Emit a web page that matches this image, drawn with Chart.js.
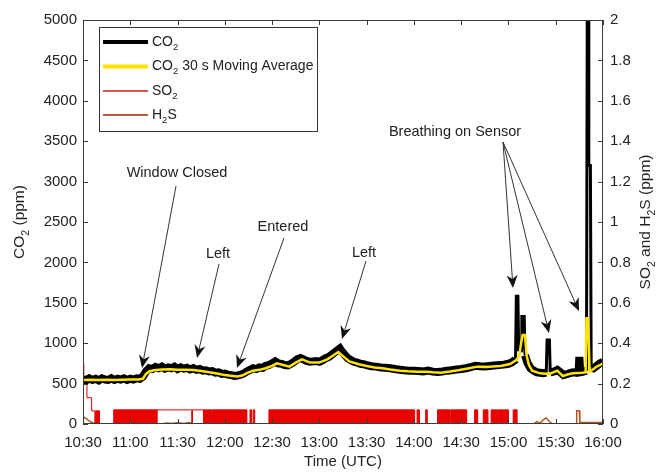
<!DOCTYPE html>
<html>
<head>
<meta charset="utf-8">
<title>CO2, SO2 and H2S</title>
<script src="https://cdn.jsdelivr.net/npm/chart.js@4"></script>
<style>
  body { margin: 0; background: #fff; }
  canvas { display: block; }
</style>
</head>
<body>
<canvas id="gasChart" width="662" height="472"></canvas>
<script>
// all times are minutes after 10:30 UTC
const timeLabels = ['10:30', '11:00', '11:30', '12:00', '12:30', '13:00', '13:30', '14:00', '14:30', '15:00', '15:30', '16:00'];

// CO2 raw reading (ppm)
const co2Times = [0, 2, 4, 6, 8, 10, 12, 14, 16, 18, 20, 22, 24, 26, 28, 30, 32, 34, 36, 38,
    40, 42, 44, 46, 48, 50, 52, 54, 56, 58, 60, 62, 64, 66, 68, 70, 72, 74, 76, 78,
    80, 82, 84, 86, 88, 90, 92, 94, 96, 98, 100, 102, 104, 106, 108, 110, 112, 114, 116, 118,
    120, 122, 124, 126, 128, 130, 132, 134, 136, 138, 140, 142, 144, 146, 148, 150, 152, 154, 156, 158,
    160, 162, 163, 164, 166, 168, 170, 172, 174, 176, 178, 180, 183, 186, 189, 192, 195, 198, 201, 204,
    207, 210, 213, 216, 219, 222, 225, 228, 231, 234, 237, 240, 243, 246, 249, 252, 255, 258, 261, 264,
    267, 270, 272, 274, 274.5, 275, 276, 276.5, 277.5, 278, 278.5, 280, 280.5, 282, 284, 286, 288, 290, 292, 294,
    294.5, 296, 296.5, 299, 301, 303, 305, 307, 309, 311, 313, 314.5, 315, 315.5, 317, 319.5, 320, 320.5, 321, 322,
    322.5, 324, 326, 328, 330];
const co2Values = [560, 540, 565, 545, 560, 540, 565, 550, 545, 565, 545, 560, 550, 565, 545, 560, 550, 565, 560, 585,
    650, 690, 680, 705, 690, 710, 685, 700, 690, 710, 680, 700, 685, 695, 675, 690, 670, 680, 660, 665,
    650, 655, 635, 640, 620, 625, 610, 605, 595, 600, 610, 625, 650, 670, 690, 680, 700, 695, 720, 730,
    750, 775, 750, 745, 730, 725, 745, 770, 800, 815, 800, 780, 770, 775, 780, 770, 790, 815, 830, 860,
    890, 920, 935, 905, 860, 815, 790, 770, 760, 745, 740, 730, 715, 710, 700, 695, 690, 680, 672, 665,
    660, 658, 655, 650, 660, 648, 645, 650, 660, 665, 675, 680, 690, 705, 720, 715, 712, 718, 725, 730,
    735, 745, 760, 790, 800, 1580, 1580, 900, 950, 1000, 1330, 1330, 850, 760, 690, 660, 640, 635, 630, 635,
    1040, 1040, 640, 650, 670, 640, 605, 615, 630, 640, 635, 640, 830, 640, 645, 660, 5000, 5000, 3200, 3200,
    700, 690, 720, 750, 770];

// CO2 30 s moving average (ppm)
const avgTimes = [0, 5, 10, 15, 20, 25, 30, 35, 38, 40, 42, 45, 50, 55, 60, 65, 70, 75, 80, 85,
    90, 95, 98, 101, 104, 108, 112, 116, 120, 123, 127, 131, 135, 139, 144, 150, 155, 159, 162, 165,
    169, 175, 180, 185, 190, 195, 201, 206, 212, 218, 222, 227, 233, 239, 245, 250, 256, 260, 265, 271,
    275, 277, 278, 279, 280.5, 281.5, 283, 285, 290, 296, 301, 304.5, 308, 311, 317, 319, 319.5, 320.5, 321.5, 324,
    326, 328, 330];
const avgValues = [545, 548, 545, 548, 545, 548, 550, 550, 560, 620, 650, 665, 675, 678, 670, 672, 668, 655, 640, 625,
    605, 595, 588, 600, 630, 660, 670, 690, 720, 750, 730, 710, 760, 800, 760, 760, 800, 850, 890, 840,
    775, 740, 718, 700, 690, 675, 660, 652, 648, 648, 640, 635, 650, 668, 690, 710, 707, 712, 718, 742,
    792, 850, 1000, 1100, 1100, 850, 730, 660, 627, 619, 660, 594, 615, 627, 635, 640, 1310, 1310, 648, 680,
    710, 730, 750];

// SO2 (ppm)
const so2Times = [0, 0.5, 2.5, 5.5, 7.5, 8, 10.5, 19.5, 47.5, 69, 69.5, 76, 79, 79.4, 81.5, 81.9, 104, 106, 107, 108,
    109, 118, 210.5, 212, 213.5, 217.5, 218.5, 225, 233, 233.5, 243.5, 248.5, 250.5, 254, 257, 259, 263, 263.5, 267, 267.4,
    270, 273, 275.5, 330];
const so2Values = [0.30, 0.22, 0.13, 0.065, 0, 0.065, 0, 0.07, 0.07, 0, 0.07, 0.07, 0, 0.07, 0, 0.07, 0, 0.07, 0, 0.07,
    0, 0.07, 0, 0.07, 0, 0.07, 0, 0.07, 0, 0.07, 0, 0.07, 0, 0.07, 0, 0.07, 0, 0.07, 0, 0.07,
    0, 0.07, 0, 0];

// H2S (ppm)
const h2sTimes = [0, 1, 2, 3, 4.5, 6, 8, 50, 53, 56, 60, 64, 67, 70, 74, 286, 288, 290, 292, 294,
    296, 298, 313, 313.3, 315, 315.3, 330];
const h2sValues = [0.04, 0.03, 0.028, 0.02, 0.012, 0.006, 0, 0, 0.005, 0.002, 0.006, 0.003, 0.007, 0.002, 0, 0, 0.012, 0.004, 0.02, 0.03,
    0.012, 0, 0, 0.065, 0.065, 0.008, 0.008];

const FONT = "'Liberation Sans', Arial, sans-serif";
const TEXT = '#222';

function toPoints(xs, ys) {
    return xs.map((x, i) => ({ x: x, y: ys[i] }));
}

// text pieces: [string, isSubscript]
function partsWidth(ctx, parts, size) {
    let w = 0;
    parts.forEach(p => {
        ctx.font = (p[1] ? size * 0.68 : size) + 'px ' + FONT;
        w += ctx.measureText(p[0]).width;
    });
    return w;
}

function drawParts(ctx, parts, x, y, size) {
    let cx = x;
    ctx.textAlign = 'left';
    ctx.textBaseline = 'middle';
    parts.forEach(p => {
        ctx.font = (p[1] ? size * 0.68 : size) + 'px ' + FONT;
        ctx.fillText(p[0], cx, p[1] ? y + size * 0.38 : y);
        cx += ctx.measureText(p[0]).width;
    });
}

function arrow(ctx, x0, y0, x1, y1) {
    let dx = x1 - x0, dy = y1 - y0;
    let len = Math.sqrt(dx * dx + dy * dy);
    let ux = dx / len, uy = dy / len;
    let nx = -uy, ny = ux;
    let L = 13, W = 5.5;
    ctx.strokeStyle = '#333';
    ctx.lineWidth = 1;
    ctx.beginPath();
    ctx.moveTo(x0, y0);
    ctx.lineTo(x1 - (L - 4) * ux, y1 - (L - 4) * uy);
    ctx.stroke();
    ctx.fillStyle = '#111';
    ctx.beginPath();
    ctx.moveTo(x1, y1);
    ctx.lineTo(x1 - L * ux + W * nx, y1 - L * uy + W * ny);
    ctx.lineTo(x1 - (L - 4) * ux, y1 - (L - 4) * uy);
    ctx.lineTo(x1 - L * ux - W * nx, y1 - L * uy - W * ny);
    ctx.closePath();
    ctx.fill();
}

const extras = {
    id: 'extras',
    afterDraw(chart) {
        const ctx = chart.ctx;
        const a = chart.chartArea;
        const sx = chart.scales.x, sy = chart.scales.y, sy2 = chart.scales.y2;
        ctx.save();

        // axes box and inward ticks
        ctx.strokeStyle = '#3a3a3a';
        ctx.lineWidth = 1;
        ctx.strokeRect(a.left + 0.5, a.top + 0.5, a.right - a.left - 1, a.bottom - a.top - 1);
        ctx.beginPath();
        sx.ticks.forEach(t => {
            let px = Math.round(sx.getPixelForValue(t.value)) + 0.5;
            ctx.moveTo(px, a.bottom);
            ctx.lineTo(px, a.bottom - 5);
            ctx.moveTo(px, a.top);
            ctx.lineTo(px, a.top + 5);
        });
        sy.ticks.forEach(t => {
            let py = Math.round(sy.getPixelForValue(t.value)) + 0.5;
            ctx.moveTo(a.left, py);
            ctx.lineTo(a.left + 5, py);
        });
        sy2.ticks.forEach(t => {
            let py = Math.round(sy2.getPixelForValue(t.value)) + 0.5;
            ctx.moveTo(a.right, py);
            ctx.lineTo(a.right - 5, py);
        });
        ctx.stroke();

        // axis titles
        ctx.fillStyle = TEXT;
        ctx.font = '15px ' + FONT;
        ctx.textAlign = 'center';
        ctx.textBaseline = 'middle';
        ctx.fillText('Time (UTC)', (a.left + a.right) / 2, 462);

        let leftTitle = [['CO', false], ['2', true], [' (ppm)', false]];
        let w = partsWidth(ctx, leftTitle, 15.5);
        ctx.save();
        ctx.translate(20, (a.top + a.bottom) / 2);
        ctx.rotate(-Math.PI / 2);
        drawParts(ctx, leftTitle, -w / 2, 0, 15.5);
        ctx.restore();

        let rightTitle = [['SO', false], ['2', true], [' and H', false], ['2', true], ['S (ppm)', false]];
        w = partsWidth(ctx, rightTitle, 15.5);
        ctx.save();
        ctx.translate(646, (a.top + a.bottom) / 2);
        ctx.rotate(-Math.PI / 2);
        drawParts(ctx, rightTitle, -w / 2, 0, 15.5);
        ctx.restore();

        // annotations
        ctx.fillStyle = TEXT;
        ctx.font = '14.5px ' + FONT;
        ctx.textAlign = 'center';
        ctx.textBaseline = 'middle';
        ctx.fillText('Window Closed', 177, 173);
        ctx.fillText('Left', 218, 254);
        ctx.fillText('Entered', 283, 227);
        ctx.fillText('Left', 364, 253);
        ctx.fillText('Breathing on Sensor', 455, 132);
        arrow(ctx, 176, 186, 142, 368);
        arrow(ctx, 219, 264, 197, 358);
        arrow(ctx, 284, 238, 237, 368);
        arrow(ctx, 366, 261, 342, 339);
        arrow(ctx, 503, 142, 513, 288);
        arrow(ctx, 503, 142, 549, 333);
        arrow(ctx, 503, 142, 579, 311);

        // legend
        ctx.fillStyle = '#fff';
        ctx.fillRect(100, 28, 217, 103);
        ctx.strokeStyle = '#333';
        ctx.lineWidth = 1;
        ctx.strokeRect(99.5, 27.5, 218, 104);
        let rows = [
            { y: 42, color: '#000', width: 4, parts: [['CO', false], ['2', true]] },
            { y: 66.5, color: '#ffe400', width: 4, parts: [['CO', false], ['2', true], [' 30 s Moving Average', false]] },
            { y: 91, color: 'rgb(200,30,25)', width: 1.5, parts: [['SO', false], ['2', true]] },
            { y: 115, color: 'rgb(175,95,60)', width: 2, parts: [['H', false], ['2', true], ['S', false]] }
        ];
        rows.forEach(r => {
            ctx.strokeStyle = r.color;
            ctx.lineWidth = r.width;
            ctx.beginPath();
            ctx.moveTo(103, r.y);
            ctx.lineTo(148, r.y);
            ctx.stroke();
            ctx.fillStyle = TEXT;
            drawParts(ctx, r.parts, 152, r.y, 14);
        });

        ctx.restore();
    }
};

function createChart() {
    const ctx = document.getElementById('gasChart').getContext('2d');

    new Chart(ctx, {
        type: 'line',
        data: {
            datasets: [{
                label: 'CO2 30 s Moving Average',
                data: toPoints(avgTimes, avgValues),
                borderColor: '#ffe400',
                borderWidth: 2.5,
                pointRadius: 0,
                yAxisID: 'y',
                order: 0
            }, {
                label: 'CO2',
                data: toPoints(co2Times, co2Values),
                borderColor: '#000',
                borderWidth: 8,
                pointRadius: 0,
                yAxisID: 'y',
                order: 1,
                segment: {
                    // the short breathing spikes are thin
                    borderWidth: c => (c.p0.parsed.y > 1000 || c.p1.parsed.y > 1000) ? 3 : undefined
                }
            }, {
                label: 'SO2',
                data: toPoints(so2Times, so2Values),
                borderColor: 'rgb(225,0,0)',
                backgroundColor: 'rgb(235,0,0)',
                borderWidth: 1,
                stepped: true,
                fill: 'origin',
                pointRadius: 0,
                yAxisID: 'y2',
                order: 2,
                segment: {
                    backgroundColor: c => (c.p0.parsed.x < 7.5 || (c.p0.parsed.x >= 47.5 && c.p0.parsed.x < 76)) ? 'rgba(0,0,0,0)' : undefined
                }
            }, {
                label: 'H2S',
                data: toPoints(h2sTimes, h2sValues),
                borderColor: 'rgb(175,85,35)',
                borderWidth: 1.5,
                pointRadius: 0,
                yAxisID: 'y2',
                order: 3
            }]
        },
        options: {
            responsive: false,
            animation: false,
            devicePixelRatio: 1,
            layout: { padding: { top: 20, left: 0, right: 0, bottom: 0 } },
            plugins: {
                legend: { display: false },
                tooltip: { enabled: false }
            },
            scales: {
                x: {
                    type: 'linear',
                    min: 0,
                    max: 330,
                    grid: { display: false, drawTicks: false },
                    border: { display: false },
                    ticks: {
                        stepSize: 30,
                        autoSkip: false,
                        maxRotation: 0,
                        padding: 10,
                        color: TEXT,
                        font: { size: 15, family: FONT },
                        callback: v => timeLabels[Math.round(v / 30)]
                    },
                    afterFit: s => { s.height = 48; }
                },
                y: {
                    position: 'left',
                    min: 0,
                    max: 5000,
                    grid: { display: false, drawTicks: false },
                    border: { display: false },
                    ticks: {
                        stepSize: 500,
                        padding: 6,
                        color: TEXT,
                        font: { size: 15, family: FONT },
                        callback: v => String(v)
                    },
                    afterFit: s => { s.width = 83; }
                },
                y2: {
                    position: 'right',
                    min: 0,
                    max: 2,
                    grid: { display: false, drawTicks: false },
                    border: { display: false },
                    ticks: {
                        stepSize: 0.2,
                        padding: 7,
                        color: TEXT,
                        font: { size: 15, family: FONT },
                        callback: v => String(+v.toFixed(1))
                    },
                    afterFit: s => { s.width = 59; }
                }
            }
        },
        plugins: [extras]
    });
}

createChart();
</script>
</body>
</html>
